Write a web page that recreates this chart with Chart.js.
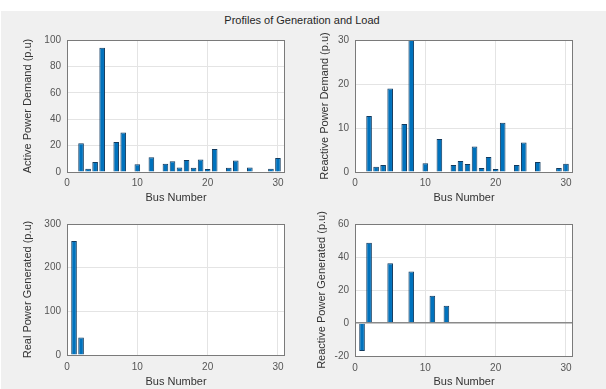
<!DOCTYPE html>
<html><head><meta charset="utf-8">
<script src="https://cdn.jsdelivr.net/npm/chart.js@4.4.1/dist/chart.umd.min.js"></script>
<style>
html,body{margin:0;padding:0;background:#fff;width:606px;height:389px;overflow:hidden;}
#fig{position:absolute;left:1px;top:11px;width:605px;height:378px;background:#f0f0f0;}
canvas{position:absolute;}
#title{position:absolute;left:0;width:604px;top:14px;text-align:center;font:11px "Liberation Sans",Arial,sans-serif;color:#262626;}
</style></head><body>
<div id="fig"></div>
<div id="title">Profiles of Generation and Load</div>
<canvas id="c1" width="300" height="194" style="left:0;top:11px"></canvas>
<canvas id="c2" width="306" height="194" style="left:300px;top:11px"></canvas>
<canvas id="c3" width="300" height="184" style="left:0;top:205px"></canvas>
<canvas id="c4" width="306" height="184" style="left:300px;top:205px"></canvas>
<script>
// ---- data (IEEE 30-bus profiles) ----
const busNumbers = [1,2,3,4,5,6,7,8,9,10,11,12,13,14,15,16,17,18,19,20,21,22,23,24,25,26,27,28,29,30];
const activeDemand = [0,21.7,2.4,7.6,94.2,0,22.8,30,0,5.8,0,11.2,0,6.2,8.2,3.5,9,3.2,9.5,2.2,17.5,0,3.2,8.7,0,3.5,0,0,2.4,10.6];
const reactiveDemand = [0,12.7,1.2,1.6,19,0,10.9,30,0,2,0,7.5,0,1.6,2.5,1.8,5.8,0.9,3.4,0.7,11.2,0,1.6,6.7,0,2.3,0,0,0.9,1.9];
const realGenerated = [260.9,40,0,0,0,0,0,0,0,0,0,0,0,0,0,0,0,0,0,0,0,0,0,0,0,0,0,0,0,0];
const reactiveGenerated = [-17,48.7,0,0,36.2,0,0,31.2,0,0,16.5,0,10.5,0,0,0,0,0,0,0,0,0,0,0,0,0,0,0,0,0];
const xTicks = [0,10,20,30];
const xRange = [0,31];
const yTicksActive = [0,20,40,60,80,100];
const yTicksReactive = [0,10,20,30];
const yTicksRealGen = [0,100,200,300];
const yTicksReactiveGen = [-20,0,20,40,60];
const xTitle = 'Bus Number';
const yTitles = ['Active Power Demand (p.u)','Reactive Power Demand (p.u)','Real Power Generated (p.u)','Reactive Power Generated (p.u)'];

const FONT = '"Liberation Sans", Arial, sans-serif';

const boxPlugin = {
  id: 'axBox',
  beforeDraw(chart) {
    const a = chart.chartArea, ctx = chart.ctx;
    ctx.save();
    ctx.fillStyle = '#ffffff';
    ctx.fillRect(a.left, a.top, a.right - a.left, a.bottom - a.top);
    ctx.restore();
  },
  afterDraw(chart, args, opts) {
    const a = chart.chartArea, ctx = chart.ctx;
    ctx.save();
    ctx.strokeStyle = '#7a7a7a';
    ctx.lineWidth = 1;
    ctx.strokeRect(Math.round(a.left)+0.5, Math.round(a.top)+0.5, Math.round(a.right-a.left)-1, Math.round(a.bottom-a.top));
    ctx.translate(opts.x, (a.top + a.bottom) / 2);
    ctx.rotate(-Math.PI / 2);
    ctx.font = '11px ' + FONT;
    ctx.fillStyle = '#333333';
    ctx.textAlign = 'center';
    ctx.textBaseline = 'middle';
    ctx.fillText(opts.text, 0, 0);
    ctx.restore();
  }
};

function makeChart(id, cfg) {
  const canvas = document.getElementById(id);
  const W = canvas.width, H = canvas.height;
  const yW = cfg.areaLeft;
  const padTop = cfg.areaTop;
  const padRight = W - cfg.areaRight;
  const xH = H - cfg.areaBottom;
  return new Chart(canvas, {
    type: 'bar',
    data: {
      datasets: [{
        data: busNumbers.map((b, i) => ({x: b, y: cfg.values[i]})),
        backgroundColor: '#0072BD',
        borderColor: '#123a5e',
        borderWidth: 1,
        categoryPercentage: 1.0,
        barPercentage: 0.8
      }]
    },
    options: {
      responsive: false,
      animation: false,
      devicePixelRatio: 1,
      layout: {padding: {top: padTop, right: padRight, left: 0, bottom: 0}},
      plugins: {
        legend: {display: false},
        tooltip: {enabled: false},
        axBox: {x: cfg.yTitleX, text: cfg.yTitle}
      },
      scales: {
        x: {
          type: 'linear',
          offset: false,
          min: xRange[0], max: xRange[1],
          afterBuildTicks: s => { s.ticks = xTicks.map(v => ({value: v})); },
          afterFit: s => { s.height = xH; },
          grid: {color: '#e4e4e4', drawTicks: false, offset: false},
          border: {display: false},
          ticks: {padding: cfg.xTickPad, color: '#555555', font: {family: FONT, size: 10}, maxRotation: 0},
          title: {display: true, text: xTitle, color: '#333333', font: {family: FONT, size: 11}, padding: {top: 0, bottom: 0}}
        },
        y: {
          min: cfg.yTicks[0], max: cfg.yTicks[cfg.yTicks.length - 1],
          afterBuildTicks: s => { s.ticks = cfg.yTicks.map(v => ({value: v})); },
          afterFit: s => { s.width = yW; },
          grid: {
            drawTicks: false,
            color: c => (cfg.baseline && c.tick && c.tick.value === 0) ? '#8a8a8a' : '#e4e4e4',
            lineWidth: c => (cfg.baseline && c.tick && c.tick.value === 0) ? 1.6 : 1
          },
          border: {display: false},
          ticks: {padding: 6, color: '#555555', font: {family: FONT, size: 10}}
        }
      }
    },
    plugins: [boxPlugin]
  });
}

makeChart('c1', {values: activeDemand, yTicks: yTicksActive, yTitle: yTitles[0], yTitleX: 28,
  areaLeft: 67, areaTop: 29, areaRight: 285, areaBottom: 161, xTickPad: 5});
makeChart('c2', {values: reactiveDemand, yTicks: yTicksReactive, yTitle: yTitles[1], yTitleX: 25,
  areaLeft: 55, areaTop: 29, areaRight: 273, areaBottom: 161, xTickPad: 5});
makeChart('c3', {values: realGenerated, yTicks: yTicksRealGen, yTitle: yTitles[2], yTitleX: 28,
  areaLeft: 67, areaTop: 19, areaRight: 285, areaBottom: 150, xTickPad: 6});
makeChart('c4', {values: reactiveGenerated, yTicks: yTicksReactiveGen, yTitle: yTitles[3], yTitleX: 22,
  areaLeft: 55, areaTop: 19, areaRight: 273, areaBottom: 151, xTickPad: 6, baseline: true});
</script>
</body></html>
